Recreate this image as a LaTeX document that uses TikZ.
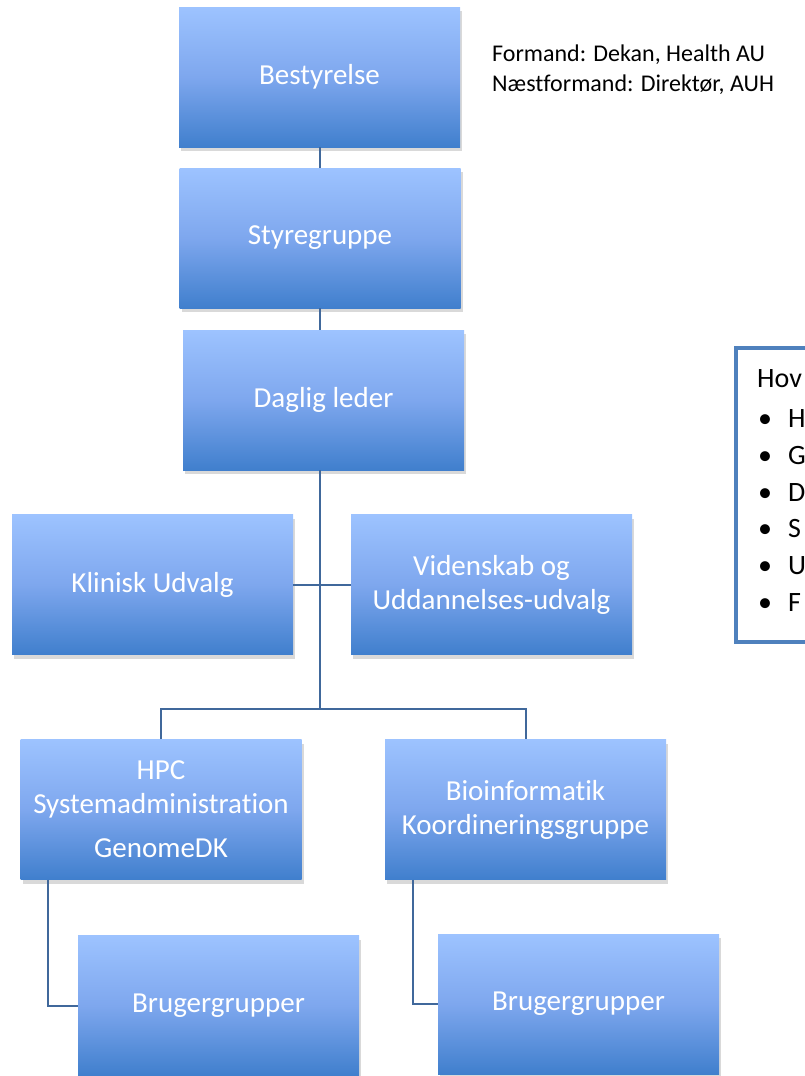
\documentclass[tikz,border=0pt]{standalone}
\usepackage{fontspec}
\setmainfont{Carlito}[Ligatures={NoCommon}]
\usetikzlibrary{shadows}
\definecolor{boxtop}{RGB}{157,195,255}
\definecolor{boxmid}{RGB}{126,167,238}
\definecolor{boxbot}{RGB}{64,127,205}
\definecolor{linkblue}{RGB}{64,104,155}
\definecolor{frameblue}{RGB}{79,129,189}

\begin{document}
\begin{tikzpicture}[x=1pt, y=-1pt,
    orgbox/.style={rectangle, minimum width=281pt, minimum height=140pt, inner sep=0pt,
        top color=boxtop, bottom color=boxbot, middle color=boxmid,
        text=white, align=center, font=\fontsize{29}{34}\selectfont,
        drop shadow={shadow xshift=2pt, shadow yshift=-4pt, opacity=0.3}},
    link/.style={draw=linkblue, line width=2pt},
    note/.style={anchor=base west, inner sep=0pt, font=\fontsize{24}{29}\selectfont},
    task/.style={anchor=base west, inner sep=0pt, font=\fontsize{28}{34}\selectfont}]
    \useasboundingbox (0,0) rectangle (804,1076);

    % Top levels
    \node[orgbox] (best) at (319.5,77) {Bestyrelse};
    \node[orgbox] (styre) at (320,238) {Styregruppe};
    \node[orgbox] (daglig) at (323.5,400) {Daglig leder};

    % Committees
    \node[orgbox] (klinisk) at (152.5,584.5) {Klinisk Udvalg};
    \node[orgbox] (viden) at (491.5,584.5) {Videnskab og\\Uddannelses-udvalg};

    % Groups
    \node[orgbox] (hpc) at (161,809.5) {HPC\\Systemadministration\\[10pt]GenomeDK};
    \node[orgbox] (bio) at (525.5,809.5) {Bioinformatik\\Koordineringsgruppe};
    \node[orgbox] (brugA) at (218.5,1005.5) {Brugergrupper};
    \node[orgbox] (brugB) at (578.5,1004) {Brugergrupper};

    % Connectors
    \coordinate (split) at (320,709);
    \coordinate (hpcleg) at ([xshift=28pt]hpc.south west);
    \coordinate (bioleg) at ([xshift=28pt]bio.south west);
    \draw[link] (best.south) -- (best.south |- styre.north);
    \draw[link] (styre.south) -- (styre.south |- daglig.north);
    \draw[link] (split |- daglig.south) -- (split);
    \draw[link] (klinisk.east) -- (viden.west);
    \draw[link] (hpc.north) |- (split) -| (bio.north);
    \draw[link] (hpcleg) |- (brugA.west);
    \draw[link] (bioleg) |- (brugB.west);

    % Chair note
    \node[note] (formand) at (492,61) {Formand: Dekan, Health AU};
    \node[note] (naest) at (492,91) {Næstformand: Direktør, AUH};

    % Tasks box (cut at the edge)
    \draw[frameblue, line width=4pt] (736,348) rectangle (850,642);
    \node[task] (hov) at (757,387) {Hov};
    \foreach \y/\l [count=\i] in {427/H,464/G,501/D,537/S,574/U,611/F} {
        \node[task] (bul\i) at (758,\y) {\textbullet};
        \node[task] (item\i) at (788,\y) {\l};
    }
\end{tikzpicture}
\end{document}
